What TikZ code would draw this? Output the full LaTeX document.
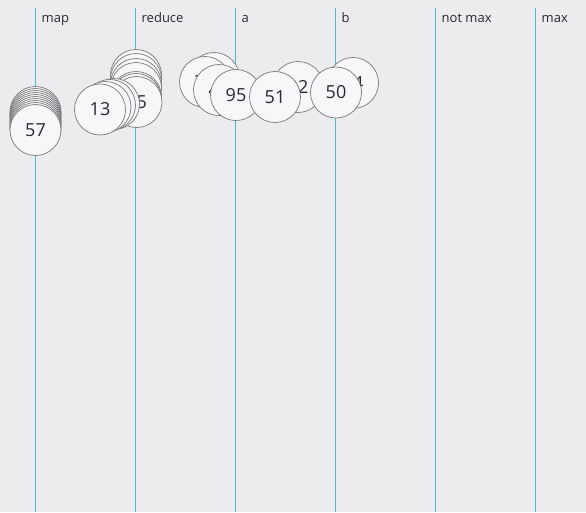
\documentclass[tikz,border=0pt]{standalone}
\usepackage{fontspec}
\setmainfont{Open Sans}
\usepackage{tikz}
\usetikzlibrary{positioning}
\definecolor{bgcol}{RGB}{236,236,238}
\definecolor{lanecol}{RGB}{70,190,202}
\definecolor{ballfill}{RGB}{247,247,249}
\definecolor{ballline}{RGB}{120,120,124}
\definecolor{labelcol}{RGB}{40,40,50}

\tikzset{
  lanerule/.style={draw=lanecol, line width=1pt},
  lanelabel/.style={anchor=base west, inner sep=0pt, font=\fontsize{13}{15}\selectfont, text=labelcol},
  ball/.style={circle, draw=ballline, fill=ballfill, line width=0.7pt, minimum size=51pt, inner sep=0pt, font=\fontsize{18}{20}\selectfont, text=labelcol}
}

\begin{document}
\begin{tikzpicture}[x=1pt,y=-1pt]
            \fill[bgcol] (0,0) rectangle (586,512);
            \useasboundingbox (0,0) rectangle (586,512);

            % lanes
            \foreach \x/\lname [count=\i] in {35.5/map,135.5/reduce,235.5/a,335.5/b,435.5/not max,535.5/max}{
                \coordinate (top\i) at (\x,8);
                \coordinate (bot\i) at (\x,512);
                \draw[lanerule] (top\i) -- (bot\i);
                \node[lanelabel] (lbl\i) at (\x+6,22) {\lname};
            }

            % map stack
            \foreach \y [count=\i] in {112,114,116,118,120,122,124,126,128}
                \node[ball] (m\i) at (35.5,\y) {};
            \node[ball] (m57) at (35.5,130) {57};

            % reduce stack
            \foreach \y [count=\i] in {75,79,84,88,97,99}
                \node[ball] (r\i) at (136,\y) {};
            \node[ball] (r25) at (136.5,102) {25};
            \node[ball] (r7) at (114,104) {};
            \node[ball] (r8) at (110,105) {};
            \node[ball] (r9) at (105.5,107) {};
            \node[ball] (r13) at (100,109.5) {13};

            % a and b
            \node[ball] (a74) at (214,78) {};
            \node[ball] (a71) at (205,82) {71};
            \node[ball] (a46) at (219,90) {46};
            \node[ball] (a95) at (236,95) {95};
            \node[ball] (b32) at (298,87) {32};
            \node[ball] (b51) at (275,97) {51};
            \node[ball] (b14) at (353,83) {14};
            \node[ball] (b50) at (336,92.5) {50};
        \end{tikzpicture}
\end{document}
